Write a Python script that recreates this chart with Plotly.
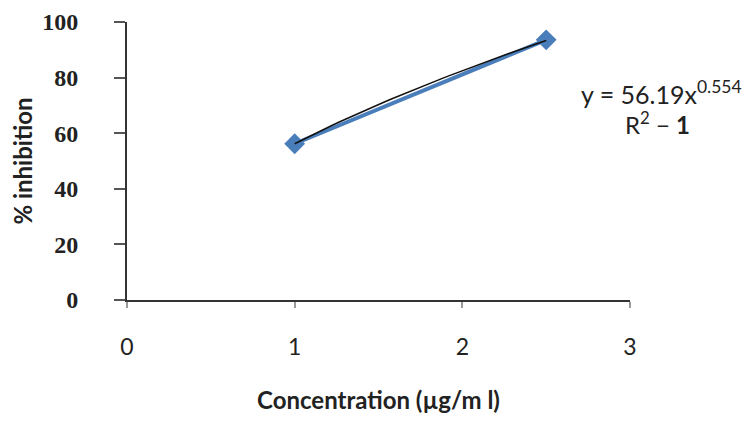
import numpy as np
import plotly.graph_objects as go

concentration = [1.0, 2.5]
inhibition = [56.2, 93.6]
x_ticks = [0, 1, 2, 3]
y_ticks = [0, 20, 40, 60, 80, 100]

# power trendline: y = a * x^b (coefficients shown on the chart)
a_coef = 56.19
b_coef = 0.554
xt = np.linspace(concentration[0], concentration[-1], 40)
yt = a_coef * xt ** b_coef

fig = go.Figure()
fig.add_trace(go.Scatter(
    x=concentration, y=inhibition, mode="lines+markers",
    line=dict(color="#4a7ebb", width=4),
    marker=dict(symbol="diamond", size=16, color="#4a7ebb"),
    showlegend=False, hoverinfo="skip"))
fig.add_trace(go.Scatter(
    x=xt, y=yt, mode="lines",
    line=dict(color="#111111", width=1.5),
    showlegend=False, hoverinfo="skip"))

fig.add_annotation(xref="paper", yref="paper", x=1.063, y=0.745,
                   text="y = 56.19x<sup>0.554</sup>", showarrow=False,
                   font=dict(family="Lato", size=25, color="#222"), xanchor="center", yanchor="middle")
fig.add_annotation(xref="paper", yref="paper", x=1.055, y=0.637,
                   text="R<sup>2</sup> − <b>1</b>", showarrow=False,
                   font=dict(family="Lato", size=24, color="#222"), xanchor="center", yanchor="middle")

fig.update_layout(
    width=743, height=415,
    margin=dict(l=119, r=121, t=14, b=123),
    paper_bgcolor="white", plot_bgcolor="white",
    xaxis=dict(range=[0, 3], tickvals=x_ticks, showgrid=False, zeroline=False,
               automargin=False,
               showline=True, linecolor="#333", linewidth=2,
               ticks="outside", ticklen=6, tickcolor="#999", tickwidth=1.5,
               ticklabelstandoff=19,
               tickfont=dict(family="Lato", size=23, color="#222"),
               title=dict(text="<b>Concentration (µg/m l)</b>", standoff=34,
                          font=dict(family="Lato", size=24, color="#222"))),
    yaxis=dict(range=[0, 100], tickvals=y_ticks, showgrid=False, zeroline=False,
               automargin=False,
               showline=True, linecolor="#333", linewidth=2,
               ticks="outside", ticklen=11, tickcolor="#555", tickwidth=1.5,
               ticklabelstandoff=31,
               tickfont=dict(family="Liberation Serif", size=24, color="#222", weight="bold"),
               title=dict(text="<b>% inhibition</b>", standoff=7,
                          font=dict(family="Lato", size=24, color="#222"))),
)
fig.write_html("out.html")
